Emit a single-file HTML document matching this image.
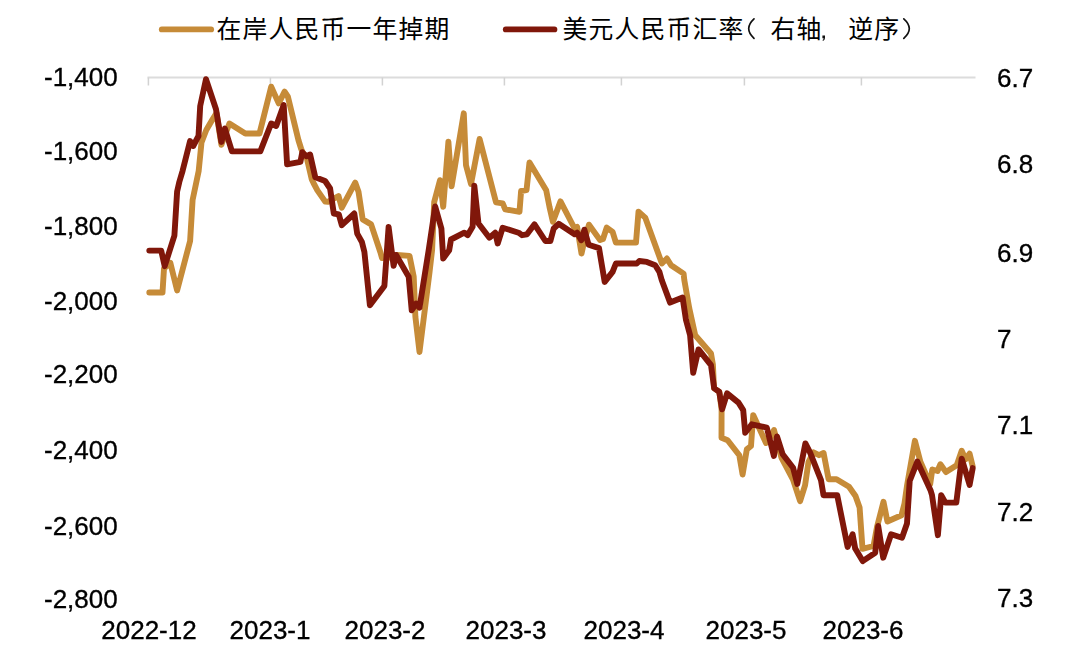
<!DOCTYPE html>
<html><head><meta charset="utf-8"><title>chart</title>
<style>
html,body{margin:0;padding:0;background:#fff}
body{width:1080px;height:670px;position:relative;overflow:hidden;font-family:"Liberation Sans",sans-serif}
.t{will-change:transform;position:absolute;font-size:26px;line-height:30px;height:30px;color:#000;white-space:nowrap;-webkit-text-stroke:0.35px #000}
.c{text-align:center}
</style></head><body>
<svg width="1080" height="670" viewBox="0 0 1080 670" style="position:absolute;left:0;top:0"><path d="M147.5 77.5 H975.5" stroke="#DCDCDC" stroke-width="2" fill="none"/><g stroke="#D2D2D2" stroke-width="1.5" fill="none"><path d="M148.4 77.5 V85.5"/><path d="M270.4 77.5 V85.5"/><path d="M382.4 77.5 V85.5"/><path d="M504.4 77.5 V85.5"/><path d="M621.4 77.5 V85.5"/><path d="M744.4 77.5 V85.5"/><path d="M861.4 77.5 V85.5"/></g><polyline points="149.3,292.5 162.5,292.5 164.0,268.5 170.3,262.8 177.1,290.4 190.1,241.0 192.6,200.0 198.7,170.8 201.5,142.5 206.3,130.0 212.0,120.3 216.5,113.0 221.4,144.8 229.4,123.5 245.3,133.5 259.5,133.5 271.2,86.7 278.7,103.4 284.6,91.7 287.9,96.7 298.4,140.0 301.2,149.0 303.0,153.0 306.8,158.0 311.8,179.5 313.5,183.0 317.4,190.4 325.2,201.6 328.0,201.8 338.5,196.0 341.8,207.7 355.2,182.6 358.5,191.8 362.7,219.4 371.1,224.4 380.3,252.0 382.0,258.0 386.5,257.0 392.5,258.0 397.0,255.0 409.5,255.9 413.7,276.7 415.4,316.9 419.5,352.0 429.6,271.7 432.1,250.0 434.2,202.0 440.0,180.2 443.2,206.8 448.4,141.8 451.6,186.3 463.8,113.3 466.0,165.2 471.0,184.0 479.6,139.0 496.0,202.3 502.7,203.4 505.2,209.3 519.5,211.8 521.1,191.0 526.5,190.2 529.5,162.4 546.2,190.2 549.5,207.0 552.9,221.8 560.5,201.4 574.6,228.5 577.1,226.8 581.5,253.5 584.5,240.0 589.0,224.7 600.1,240.1 603.0,239.0 606.7,227.6 612.6,231.8 615.9,242.6 636.0,242.6 638.5,211.7 645.2,217.6 661.9,263.5 666.9,258.5 671.1,265.2 683.6,273.6 684.3,280.0 689.3,308.4 695.2,335.2 711.0,353.5 712.9,364.5 714.0,388.0 719.4,392.0 721.6,410.0 721.5,437.7 727.6,440.2 739.3,455.2 742.6,474.5 746.8,449.4 751.0,446.0 753.2,415.1 766.0,443.0 770.0,438.0 774.0,430.0 781.4,457.5 793.0,479.5 800.1,501.1 805.1,485.2 808.5,461.8 813.5,452.4 819.0,455.2 823.6,453.0 828.6,479.2 836.5,479.2 849.0,486.8 855.5,496.0 859.6,507.5 862.5,548.8 873.5,546.0 877.0,527.0 883.5,501.8 887.4,521.5 901.5,515.2 904.5,503.4 907.1,485.2 914.9,440.8 920.4,461.8 930.2,484.2 932.3,469.5 937.5,471.0 940.4,464.2 946.0,472.1 956.7,465.3 961.7,450.8 965.6,459.3 969.6,453.6 972.6,466.0" fill="none" stroke="#C68B38" stroke-width="5.9" stroke-linejoin="round" stroke-linecap="round"/><polyline points="149.3,250.6 161.2,250.6 164.7,266.2 174.4,235.6 177.1,191.7 179.3,182.0 182.6,170.8 190.1,141.0 193.2,146.0 198.5,136.0 200.2,106.0 206.0,79.2 216.0,109.3 221.4,141.9 224.9,128.5 231.9,151.4 260.3,151.4 271.2,123.5 276.2,126.0 283.7,105.1 287.1,164.4 300.4,161.9 302.3,152.2 306.3,156.3 310.1,154.5 315.3,177.3 325.1,181.0 330.1,188.5 333.8,213.5 338.8,214.4 341.8,225.2 354.3,213.5 357.2,233.6 361.9,242.0 364.4,252.0 369.9,305.2 384.4,285.9 388.6,226.9 393.6,265.9 396.1,255.0 408.7,276.7 411.7,310.2 416.2,303.5 419.5,307.7 428.7,250.0 435.2,206.5 441.4,228.5 443.2,258.5 449.2,250.2 451.0,239.5 464.3,232.7 467.6,235.2 472.6,226.8 474.3,185.6 478.5,223.5 489.4,237.7 495.2,232.7 497.7,243.5 502.7,227.7 518.6,232.7 522.0,235.2 527.0,234.3 534.5,224.3 545.4,241.0 550.4,241.0 553.7,228.5 558.7,223.8 574.6,234.3 577.1,232.7 581.3,240.2 584.4,229.7 588.6,244.8 599.0,248.1 604.7,281.9 612.6,271.9 615.9,263.5 636.8,263.5 639.3,261.0 646.9,261.9 655.2,265.2 659.4,271.9 661.7,280.0 670.1,302.6 682.6,297.5 686.0,320.1 690.1,335.2 693.2,372.8 698.5,349.4 711.0,365.2 714.2,388.4 719.2,391.7 722.1,409.3 727.1,393.4 738.5,402.6 743.2,410.1 745.2,432.7 751.8,424.3 766.8,427.6 773.9,456.0 777.0,436.4 782.7,454.3 793.1,467.7 797.3,484.0 805.4,443.4 810.1,452.6 821.0,480.2 823.5,495.2 837.2,495.2 847.6,546.9 852.6,534.3 855.2,548.6 862.7,561.1 875.2,552.7 878.2,526.0 883.2,557.7 891.1,534.3 902.0,537.7 907.0,523.5 909.7,481.0 917.3,461.6 930.5,490.2 932.0,495.1 937.9,535.2 941.2,495.1 945.4,502.6 956.3,502.6 961.7,458.6 969.6,484.9 972.7,468.1" fill="none" stroke="#80170A" stroke-width="5.9" stroke-linejoin="round" stroke-linecap="round"/><path d="M161.8 29.4 H211.1" stroke="#C68B38" stroke-width="5.9" stroke-linecap="round"/><path d="M505.8 29.4 H554.4" stroke="#80170A" stroke-width="5.9" stroke-linecap="round"/><g fill="#000" font-family='"Liberation Sans", "Noto Sans CJK SC", sans-serif' font-size="24.8" letter-spacing="1.2"><text x="216.5" y="38">在岸人民币一年掉期</text><text x="562.6" y="38">美元人民币汇率</text><text x="770.4" y="38">右轴</text><text x="848.2" y="38">逆序</text></g><g fill="none" stroke="#111" stroke-width="1.7" stroke-linecap="round"><path d="M754 18.8 Q743.4 28.6 754 38.4"/><path d="M903.8 18.8 Q914.8 28.6 903.8 38.4"/></g><path d="M822.4 35.6 h2.6 v2.4 q0 2.2 -2 3 l-0.5 -0.9 q1.1 -0.6 1.1 -1.9 h-1.2 z" fill="#111"/></svg>
<div class="t" style="left:44px;top:62.3px">-1,400</div><div class="t" style="left:44px;top:135.6px">-1,600</div><div class="t" style="left:44px;top:211.0px">-1,800</div><div class="t" style="left:44px;top:286.4px">-2,000</div><div class="t" style="left:44px;top:359.0px">-2,200</div><div class="t" style="left:44px;top:435.4px">-2,400</div><div class="t" style="left:44px;top:510.7px">-2,600</div><div class="t" style="left:44px;top:583.5px">-2,800</div><div class="t" style="left:997px;top:62.7px">6.7</div><div class="t" style="left:997px;top:148.8px">6.8</div><div class="t" style="left:997px;top:238.2px">6.9</div><div class="t" style="left:997px;top:323.7px">7</div><div class="t" style="left:997px;top:409.6px">7.1</div><div class="t" style="left:997px;top:497.2px">7.2</div><div class="t" style="left:997px;top:583.3px">7.3</div><div class="t c" style="left:89px;width:120px;top:614.9px">2022-12</div><div class="t c" style="left:210px;width:120px;top:614.9px">2023-1</div><div class="t c" style="left:324.5px;width:120px;top:614.9px">2023-2</div><div class="t c" style="left:446px;width:120px;top:614.9px">2023-3</div><div class="t c" style="left:563.5px;width:120px;top:614.9px">2023-4</div><div class="t c" style="left:685.5px;width:120px;top:614.9px">2023-5</div><div class="t c" style="left:803px;width:120px;top:614.9px">2023-6</div>
</body></html>
